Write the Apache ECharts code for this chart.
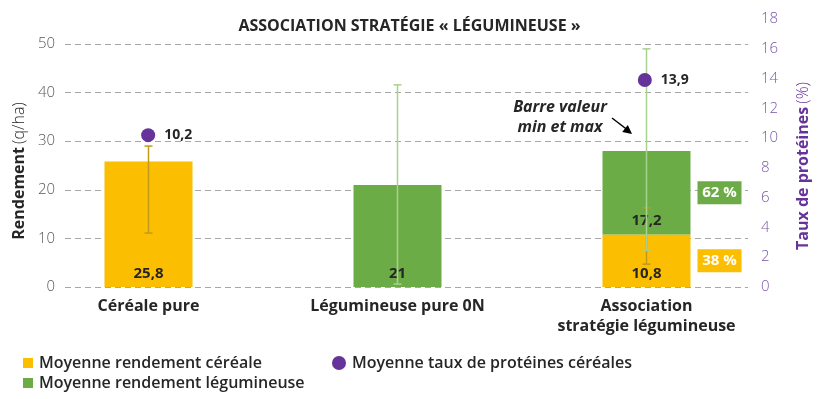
<!DOCTYPE html>
<html><head><meta charset="utf-8">
<script src="https://cdn.jsdelivr.net/npm/echarts@6/dist/echarts.min.js"></script>
<style>html,body{margin:0;padding:0;background:#fff}#c{width:819px;height:399px}</style>
</head><body><div id="c"></div>
<script>
// ---- data ----
const categories = ['Céréale pure', 'Légumineuse pure 0N', 'Association\nstratégie légumineuse'];
const cerealYield = [25.8, null, 10.8];
const legumeYield = [null, 21, 17.2];
const cerealMin = [11.1, null, 4.7];
const cerealMax = [29.0, null, 16.3];
const legumeMin = [null, 0.6, 7.6];   // min/max bar as drawn (stacked position)
const legumeMax = [null, 41.6, 49.0];
const protein = [10.2, null, 13.9];
const shareCereal = [null, null, 38];
const shareLegume = [null, null, 62];
const leftTicks = [0, 10, 20, 30, 40, 50];
const rightTicks = [0, 2, 4, 6, 8, 10, 12, 14, 16, 18];

// ---- style ----
const FONT = 'Open Sans';
const YELLOW = '#FBBE00', GREEN = '#6CAC46', PURPLE = '#65339A';
const DARK = '#262626';
const comma = v => String(v).replace('.', ',');

const chart = echarts.init(document.getElementById('c'));

function errSeries(name, lo, hi, color) {
  const data = [];
  lo.forEach((v, i) => { if (v != null) data.push([i, v, hi[i]]); });
  return {
    type: 'custom', name, xAxisIndex: 1, yAxisIndex: 1, z: 5, silent: true,
    data,
    renderItem(params, api) {
      const x = api.value(0);
      const a = api.coord([x, api.value(2)]);
      const b = api.coord([x, api.value(1)]);
      const cap = 4;
      const st = { stroke: color, lineWidth: 1.5 };
      return { type: 'group', children: [
        { type: 'line', shape: { x1: a[0], y1: a[1], x2: b[0], y2: b[1] }, style: st },
        { type: 'line', shape: { x1: a[0] - cap, y1: a[1], x2: a[0] + cap, y2: a[1] }, style: st },
        { type: 'line', shape: { x1: b[0] - cap, y1: b[1], x2: b[0] + cap, y2: b[1] }, style: st }
      ]};
    }
  };
}

// percentage boxes, placed at the middle of each stacked segment
const boxes = [];
categories.forEach((c, i) => {
  if (shareCereal[i] != null) boxes.push({ x: i, y: cerealYield[i] / 2, text: shareCereal[i] + ' %', color: YELLOW });
  if (shareLegume[i] != null) boxes.push({ x: i, y: cerealYield[i] + legumeYield[i] / 2, text: shareLegume[i] + ' %', color: GREEN });
});

const BAR_W = 88;
const legendText = { fontFamily: FONT, fontSize: 16, fontWeight: 600, color: DARK, padding: [0, 0, 0, 1] };

chart.setOption({
  animation: false,
  textStyle: { fontFamily: FONT },
  title: {
    text: 'ASSOCIATION STRATÉGIE « LÉGUMINEUSE »',
    left: 'center', top: 13,
    textStyle: { fontFamily: FONT, fontSize: 16, fontWeight: 'bold', color: DARK }
  },
  legend: [
    { left: 18, top: 350, icon: 'rect', itemWidth: 10, itemHeight: 10,
      data: ['Moyenne rendement céréale'], textStyle: legendText },
    { left: 327, top: 350, icon: 'circle', itemWidth: 14, itemHeight: 14,
      data: ['Moyenne taux de protéines céréales'], textStyle: legendText },
    { left: 18, top: 370, icon: 'rect', itemWidth: 10, itemHeight: 10,
      data: ['Moyenne rendement légumineuse'], textStyle: legendText }
  ],
  grid: [
    { left: 65, right: 71, top: 44, bottom: 112 },   // gridlines + left axis
    { left: 24, right: 48, top: 44, bottom: 112 },   // bars
    { left: 24, right: 48, top: 19, bottom: 112 }    // right axis (protein)
  ],
  xAxis: [
    { gridIndex: 0, type: 'category', data: categories, show: false },
    { gridIndex: 1, type: 'category', data: categories,
      axisLine: { show: false }, axisTick: { show: false },
      axisLabel: { margin: 9, fontFamily: FONT, fontSize: 16, fontWeight: 'bold', color: DARK, lineHeight: 20 } },
    { gridIndex: 2, type: 'category', data: categories, show: false }
  ],
  yAxis: [
    { gridIndex: 0, type: 'value',
      min: leftTicks[0], max: leftTicks[leftTicks.length - 1], interval: leftTicks[1] - leftTicks[0],
      axisLine: { show: false }, axisTick: { show: false },
      axisLabel: { margin: 10, fontFamily: FONT, fontSize: 15, fontWeight: 300, color: '#595959' },
      splitLine: { lineStyle: { type: [6, 4], color: '#A6A6A6', width: 1.2 } },
      name: '{b|Rendement} {n|(q/ha)}', nameLocation: 'middle', nameRotate: 90, nameGap: 37,
      nameTextStyle: { padding: [0, 11, 0, 0], rich: {
        b: { fontFamily: FONT, fontSize: 16, fontWeight: 'bold', color: DARK },
        n: { fontFamily: FONT, fontSize: 16, fontWeight: 300, color: DARK } } } },
    { gridIndex: 1, type: 'value', min: leftTicks[0], max: leftTicks[leftTicks.length - 1], show: false },
    { gridIndex: 2, type: 'value', position: 'right', offset: -23,
      min: rightTicks[0], max: rightTicks[rightTicks.length - 1], interval: rightTicks[1] - rightTicks[0],
      axisLine: { show: false }, axisTick: { show: false }, splitLine: { show: false },
      axisLabel: { margin: 15, fontFamily: FONT, fontSize: 15, fontWeight: 300, color: '#7A58A8' },
      name: '{b|Taux de protéines} {n|(%)}', nameLocation: 'middle', nameRotate: 90, nameGap: 49,
      nameTextStyle: { padding: [0, 26, 0, 0], rich: {
        b: { fontFamily: FONT, fontSize: 16, fontWeight: 'bold', color: PURPLE },
        n: { fontFamily: FONT, fontSize: 16, fontWeight: 300, color: PURPLE } } } }
  ],
  graphic: [
    { type: 'text', x: 560, y: 97, z: 10,
      style: { text: 'Barre valeur\nmin et max', font: 'italic bold 16px ' + FONT, fill: DARK,
               align: 'center', lineHeight: 20 } },
    { type: 'line', z: 10, shape: { x1: 612, y1: 118, x2: 627, y2: 129.5 }, style: { stroke: '#000', lineWidth: 1.5 } },
    { type: 'polygon', z: 10, shape: { points: [[632, 134], [622.2, 131.9], [627.8, 124.9]] }, style: { fill: '#000' } }
  ],
  series: [
    { type: 'bar', name: 'Moyenne rendement céréale', stack: 'y', xAxisIndex: 1, yAxisIndex: 1,
      barWidth: BAR_W, data: cerealYield, itemStyle: { color: YELLOW },
      label: { show: true, position: 'insideBottom', distance: 6, formatter: p => comma(p.value),
               fontFamily: FONT, fontSize: 15, fontWeight: 'bold', color: DARK } },
    { type: 'bar', name: 'Moyenne rendement légumineuse', stack: 'y', xAxisIndex: 1, yAxisIndex: 1,
      barWidth: BAR_W, data: legumeYield, itemStyle: { color: GREEN },
      label: { show: true, position: 'insideBottom', distance: 6, formatter: p => comma(p.value),
               fontFamily: FONT, fontSize: 15, fontWeight: 'bold', color: DARK } },
    errSeries('err-cereal', cerealMin, cerealMax, '#C19A1A'),
    errSeries('err-legume', legumeMin, legumeMax, '#A9D18E'),
    { type: 'custom', name: 'shares', xAxisIndex: 1, yAxisIndex: 1, z: 6, silent: true,
      data: boxes.map(b => [b.x, b.y]),
      renderItem(params, api) {
        const b = boxes[params.dataIndex];
        const p = api.coord([api.value(0), api.value(1)]);
        const left = p[0] + BAR_W / 2 + 7, w = 44, h = 23;
        return { type: 'group', children: [
          { type: 'rect', shape: { x: left, y: p[1] - h / 2, width: w, height: h }, style: { fill: b.color } },
          { type: 'text', x: left + w / 2, y: p[1],
            style: { text: b.text, fill: '#fff', font: 'bold 15px ' + FONT, align: 'center', verticalAlign: 'middle' } }
        ]};
      } },
    { type: 'scatter', name: 'Moyenne taux de protéines céréales', xAxisIndex: 2, yAxisIndex: 2, z: 8,
      data: protein, symbolSize: 14, itemStyle: { color: PURPLE, opacity: 1 },
      label: { show: true, position: 'right', distance: 9, formatter: p => comma(p.value),
               fontFamily: FONT, fontSize: 14, fontWeight: 'bold', color: DARK } }
  ]
});
</script></body></html>
